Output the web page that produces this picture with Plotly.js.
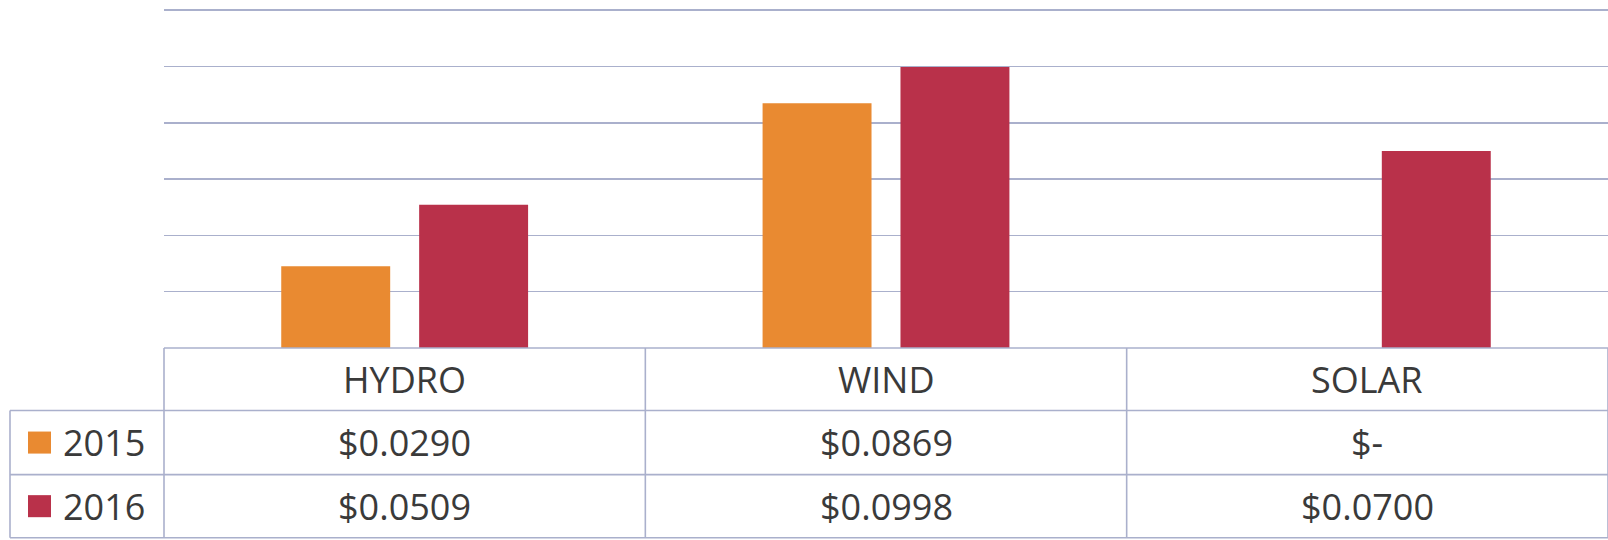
<!DOCTYPE html>
<html>
<head>
<meta charset="utf-8">
<script src="https://cdn.plot.ly/plotly-3.0.1.min.js"></script>
<style>
  html, body { margin: 0; padding: 0; background: #ffffff; }
  #chart { width: 1608px; height: 540px; }
</style>
</head>
<body>
<div id="chart"></div>
<script>
// Levelized cost per kWh by source
const categories = ['HYDRO', 'WIND', 'SOLAR'];
const seriesNames = ['2015', '2016'];
const values2015 = [0.0290, 0.0869, 0];
const values2016 = [0.0509, 0.0998, 0.0700];
const seriesColors = ['#E98A31', '#B9314A'];

const series = [values2015, values2016];

const lineColor = '#aab0cc';
const textColor = '#3a3a3a';
const fontFamily = '"Open Sans", "Liberation Sans", sans-serif';
const fontSize = 36;

// money format used in the data table
function fmt(v) {
  return v === 0 ? '$-' : '$' + v.toFixed(4);
}

const traces = series.map((vals, i) => ({
  type: 'bar',
  name: seriesNames[i],
  x: categories,
  y: vals,
  marker: { color: seriesColors[i], line: { width: 0 } },
  hoverinfo: 'skip'
}));

// y range runs a hair past the last gridline so that line is drawn
const yMax = 0.1204;
const plotH = 337.3 * yMax / 0.12;
const topMargin = 540 - 192.4 - plotH;

// table geometry (paper units, below the plot area)
const rowEdges = [0, -62.4 / plotH, -126.4 / plotH, -189.4 / plotH];
const leftEdge = -154 / 1444;
const n = categories.length;

const shapes = [];
const annotations = [];

// horizontal rules: header row spans the category columns; data rows also include the legend column
rowEdges.forEach((y, r) => {
  shapes.push({
    type: 'line', xref: 'paper', yref: 'paper',
    x0: r === 0 ? 0 : leftEdge, x1: 1.01, y0: y, y1: y,
    line: { color: lineColor, width: 1.6 }
  });
});
// vertical rules between the category columns
for (let c = 0; c <= n; c++) {
  shapes.push({
    type: 'line', xref: 'paper', yref: 'paper',
    x0: c / n, x1: c / n, y0: rowEdges[0], y1: rowEdges[3],
    line: { color: lineColor, width: 1.6 }
  });
}
// left edge of the legend column
shapes.push({
  type: 'line', xref: 'paper', yref: 'paper',
  x0: leftEdge, x1: leftEdge, y0: rowEdges[1], y1: rowEdges[3],
  line: { color: lineColor, width: 1.6 }
});

// category header
categories.forEach(cat => {
  annotations.push({
    xref: 'x', yref: 'paper', x: cat, y: (rowEdges[0] + rowEdges[1]) / 2,
    text: cat, showarrow: false, xanchor: 'center', yanchor: 'middle',
    font: { family: fontFamily, size: fontSize, color: textColor }
  });
});

// data rows with legend keys
series.forEach((vals, r) => {
  const yMid = (rowEdges[r + 1] + rowEdges[r + 2]) / 2;
  const keyH = 22 / plotH;
  shapes.push({
    type: 'rect', xref: 'paper', yref: 'paper',
    x0: -136 / 1444, x1: -113 / 1444, y0: yMid - keyH / 2, y1: yMid + keyH / 2,
    fillcolor: seriesColors[r], line: { width: 0 }
  });
  annotations.push({
    xref: 'paper', yref: 'paper', x: -103 / 1444, y: yMid,
    text: seriesNames[r], showarrow: false, xanchor: 'left', yanchor: 'middle',
    font: { family: fontFamily, size: fontSize, color: textColor }
  });
  vals.forEach((v, c) => {
    annotations.push({
      xref: 'x', yref: 'paper', x: categories[c], y: yMid,
      text: fmt(v), showarrow: false, xanchor: 'center', yanchor: 'middle',
      font: { family: fontFamily, size: fontSize, color: textColor }
    });
  });
});

const layout = {
  width: 1608,
  height: 540,
  margin: { l: 164, r: 0, t: topMargin, b: 192.4 },
  paper_bgcolor: '#ffffff',
  plot_bgcolor: '#ffffff',
  showlegend: false,
  barmode: 'group',
  bargap: 0.427,
  bargroupgap: 0.21,
  xaxis: {
    type: 'category',
    showticklabels: false,
    ticks: '',
    showgrid: false,
    zeroline: false,
    showline: false,
    fixedrange: true
  },
  yaxis: {
    range: [0, yMax],
    dtick: 0.02,
    showticklabels: false,
    ticks: '',
    showgrid: true,
    gridcolor: lineColor,
    gridwidth: 1.6,
    zeroline: false,
    showline: false,
    fixedrange: true
  },
  shapes: shapes,
  annotations: annotations
};

Plotly.newPlot('chart', traces, layout, { displayModeBar: false, staticPlot: true });
</script>
</body>
</html>
